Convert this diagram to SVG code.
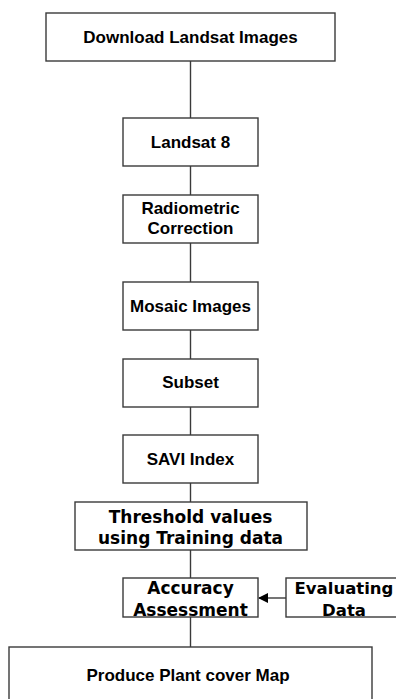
<svg xmlns="http://www.w3.org/2000/svg" width="396" height="699" viewBox="0 0 396 699">
<defs>
<style>
.box{fill:#fff;stroke:#3a3a3a;stroke-width:1.4}
.a{font-family:"Liberation Sans",Arial,sans-serif;font-weight:bold;font-size:17px;fill:#000;text-anchor:middle}
.d{font-family:"DejaVu Sans",sans-serif;font-weight:bold;font-size:17px;fill:#000;text-anchor:middle}
.c{stroke:#3a3a3a;stroke-width:1.4;fill:none}
</style>
<marker id="arr" markerWidth="10" markerHeight="10" refX="9" refY="5" orient="auto" markerUnits="userSpaceOnUse">
<path d="M0,0 L10,5 L0,10 Z" fill="#000"/>
</marker>
</defs>
<rect width="396" height="699" fill="#fff"/>
<g id="connectors">
<line class="c" x1="190.5" y1="61" x2="190.5" y2="118"/>
<line class="c" x1="190.5" y1="166" x2="190.5" y2="195"/>
<line class="c" x1="190.5" y1="243" x2="190.5" y2="282"/>
<line class="c" x1="190.5" y1="330" x2="190.5" y2="359"/>
<line class="c" x1="190.5" y1="407" x2="190.5" y2="435"/>
<line class="c" x1="190.5" y1="483" x2="190.5" y2="502"/>
<line class="c" x1="190.5" y1="550" x2="190.5" y2="578"/>
<line class="c" x1="190.5" y1="617" x2="190.5" y2="647"/>
<line class="c" x1="286" y1="598" x2="259" y2="598" marker-end="url(#arr)"/>
</g>
<g id="download">
<rect class="box" x="46" y="13" width="289" height="48"/>
<text class="a" x="190.5" y="43">Download Landsat Images</text>
</g>
<g id="landsat8">
<rect class="box" x="123" y="118" width="135" height="48"/>
<text class="a" x="190.5" y="148">Landsat 8</text>
</g>
<g id="radiometric">
<rect class="box" x="123" y="195" width="135" height="48"/>
<text class="a" x="190.5" y="214">Radiometric</text>
<text class="a" x="190.5" y="234">Correction</text>
</g>
<g id="mosaic">
<rect class="box" x="123" y="282" width="135" height="48"/>
<text class="a" x="190.5" y="312">Mosaic Images</text>
</g>
<g id="subset">
<rect class="box" x="123" y="359" width="135" height="48"/>
<text class="a" x="190.5" y="388">Subset</text>
</g>
<g id="savi">
<rect class="box" x="123" y="435" width="135" height="48"/>
<text class="a" x="190.5" y="465">SAVI Index</text>
</g>
<g id="threshold">
<rect class="box" x="75" y="502" width="232" height="48"/>
<text class="d" x="190.5" y="523">Threshold values</text>
<text class="d" x="190.5" y="544">using Training data</text>
</g>
<g id="accuracy">
<rect class="box" x="123" y="578" width="135" height="39"/>
<text class="d" x="190.5" y="594">Accuracy</text>
<text class="d" x="190.5" y="616">Assessment</text>
</g>
<g id="evaluating">
<rect class="box" x="286" y="578" width="116" height="39"/>
<text class="d" x="344" y="594" style="font-size:16.5px">Evaluating</text>
<text class="d" x="344" y="616" style="font-size:16.5px">Data</text>
</g>
<g id="produce">
<rect class="box" x="9" y="647" width="363" height="60"/>
<text class="a" x="188" y="681">Produce Plant cover Map</text>
</g>
</svg>
